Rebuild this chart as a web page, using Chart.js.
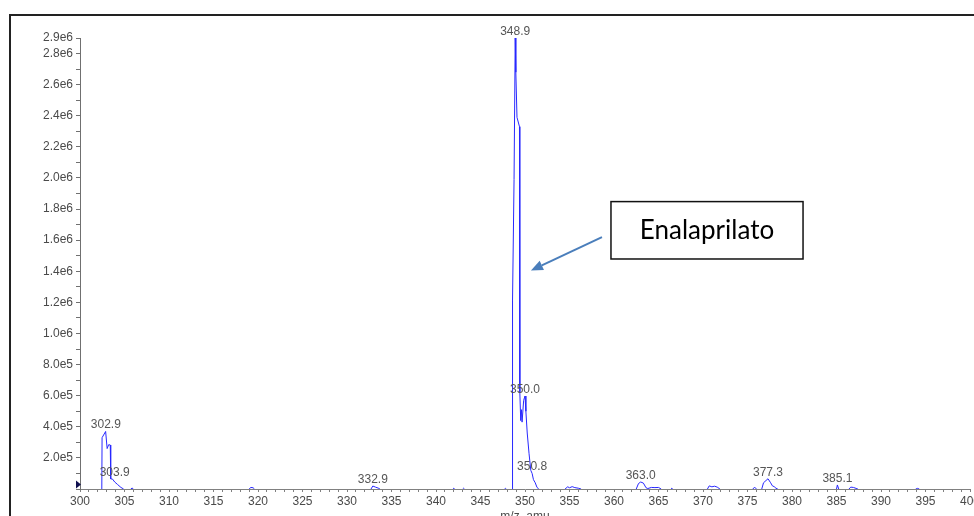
<!DOCTYPE html>
<html>
<head>
<meta charset="utf-8">
<script src="https://cdn.jsdelivr.net/npm/chart.js@4.4.1/dist/chart.umd.min.js"></script>
<style>
  html, body { margin: 0; padding: 0; background: #fff; overflow: hidden; }
  #frame { position: absolute; left: 9px; top: 14px; width: 1100px; height: 600px; border: 2px solid #222; }
  #wrap { position: absolute; left: 0; top: 0; width: 1000px; height: 524px; }
</style>
</head>
<body>
<div id="frame"></div>
<div id="wrap"><canvas id="spectrum"></canvas></div>
<script>
// profile spectrum, m/z vs intensity (cps)
const mzValues = [
    300.0, 302.45, 302.48, 302.88, 303.05, 303.22, 303.40, 303.45, 303.65, 303.90, 304.20, 304.60, 304.90,
    305.70, 305.85, 306.00,
    319.00, 319.20, 319.45, 319.60,
    332.70, 332.90, 333.20, 333.50, 333.70,
    341.90, 342.00, 342.10, 343.00, 343.10, 343.20, 347.70, 347.80, 347.90,
    348.58, 348.60, 348.77, 348.90, 348.97, 349.10, 349.38, 349.41, 349.43, 349.52, 349.60, 349.67, 349.85,
    350.00, 350.10, 350.25, 350.45, 350.65, 350.80, 350.95, 351.15, 351.35, 351.55,
    354.50, 354.80, 355.00, 355.30, 355.60, 356.00, 356.30,
    362.50, 362.75, 363.00, 363.30, 363.60, 363.80, 364.20, 364.60, 365.00, 365.30,
    366.40, 366.50, 366.60,
    370.50, 370.70, 371.00, 371.30, 371.60, 371.90,
    375.60, 375.80, 376.00,
    376.60, 376.80, 377.30, 377.60, 377.80, 378.00, 378.20, 378.40,
    385.00, 385.10, 385.25,
    386.40, 386.60, 386.90, 387.20, 387.40,
    393.90, 394.10, 394.30, 400.0
];
const intensities = [
    0, 0, 330000, 370000, 260000, 285000, 283000, 65000, 64000, 45000, 30000, 10000, 0,
    0, 6000, 0,
    0, 10000, 8000, 0,
    0, 19000, 12000, 6000, 0,
    0, 5000, 0, 0, 5000, 0, 0, 4000, 0,
    0, 1215000, 1990000, 2900000, 2680000, 2390000, 2330000, 1850000, 620000, 440000, 510000, 430000, 570000,
    598000, 500000, 360000, 230000, 120000, 100000, 60000, 40000, 10000, 0,
    0, 14000, 8000, 15000, 9000, 5000, 0,
    0, 35000, 45000, 38000, 8000, 3000, 10000, 9000, 10000, 0,
    0, 5000, 0,
    0, 20000, 14000, 18000, 12000, 0,
    0, 12000, 0,
    0, 40000, 66000, 40000, 20000, 15000, 5000, 0,
    0, 26000, 0,
    0, 12000, 10000, 4000, 0,
    0, 4000, 0, 0
];

// labelled peaks
const peakLabelMz = [302.9, 303.9, 332.9, 348.9, 350.0, 350.8, 363.0, 377.3, 385.1];
const peakLabelHeight = [370000, 64000, 19000, 2900000, 598000, 103000, 45000, 66000, 26000];

// axes
const xMajorTicks = [300, 305, 310, 315, 320, 325, 330, 335, 340, 345, 350, 355, 360, 365, 370, 375, 380, 385, 390, 395, 400];
const yTickValues = [200000, 400000, 600000, 800000, 1000000, 1200000, 1400000, 1600000, 1800000, 2000000, 2200000, 2400000, 2600000, 2800000, 2900000];
const yTickLabels = ['2.0e5', '4.0e5', '6.0e5', '8.0e5', '1.0e6', '1.2e6', '1.4e6', '1.6e6', '1.8e6', '2.0e6', '2.2e6', '2.4e6', '2.6e6', '2.8e6', '2.9e6'];

// callout, in data units
const callout = {
    text: 'Enalaprilato',
    boxLeft: 359.66, boxRight: 381.24, boxTop: 1848000, boxBottom: 1479000,
    arrowFrom: [358.65, 1620000], arrowTo: [350.67, 1405000]
};

const LINE_BLUE = 'rgb(40, 40, 255)';
const TEXT_GRAY = '#4a4a4a';
const FONT = 'Liberation Sans, Arial, sans-serif';

const peakLabels = {
    id: 'peakLabels',
    afterDatasetsDraw(chart) {
        const { ctx, scales: { x, y } } = chart;
        ctx.save();
        ctx.font = '12px ' + FONT;
        ctx.fillStyle = '#555';
        ctx.textAlign = 'center';
        ctx.textBaseline = 'alphabetic';
        peakLabelMz.forEach((mz, i) => {
            ctx.fillText(mz.toFixed(1), x.getPixelForValue(mz), y.getPixelForValue(peakLabelHeight[i]) - 3);
        });
        ctx.restore();
    }
};

const extras = {
    id: 'extras',
    afterDraw(chart) {
        const { ctx, chartArea, scales: { x, y } } = chart;
        ctx.save();

        // threshold marker on the y axis
        const y0 = y.getPixelForValue(0);
        ctx.fillStyle = '#101050';
        ctx.beginPath();
        ctx.moveTo(chartArea.left - 4, y0 - 8.5);
        ctx.lineTo(chartArea.left + 1, y0 - 4.5);
        ctx.lineTo(chartArea.left - 4, y0 - 0.5);
        ctx.closePath();
        ctx.fill();

        // arrow
        const ax0 = x.getPixelForValue(callout.arrowFrom[0]), ay0 = y.getPixelForValue(callout.arrowFrom[1]);
        const ax1 = x.getPixelForValue(callout.arrowTo[0]), ay1 = y.getPixelForValue(callout.arrowTo[1]);
        const ang = Math.atan2(ay1 - ay0, ax1 - ax0);
        const headLen = 12, headHalf = 5;
        const bx = ax1 - headLen * Math.cos(ang), by = ay1 - headLen * Math.sin(ang);
        ctx.strokeStyle = '#4a7ebb';
        ctx.fillStyle = '#4a7ebb';
        ctx.lineWidth = 2;
        ctx.beginPath();
        ctx.moveTo(ax0, ay0);
        ctx.lineTo(bx, by);
        ctx.stroke();
        ctx.beginPath();
        ctx.moveTo(ax1, ay1);
        ctx.lineTo(bx + headHalf * Math.sin(ang), by - headHalf * Math.cos(ang));
        ctx.lineTo(bx - headHalf * Math.sin(ang), by + headHalf * Math.cos(ang));
        ctx.closePath();
        ctx.fill();

        // box
        const l = x.getPixelForValue(callout.boxLeft), r = x.getPixelForValue(callout.boxRight);
        const t = y.getPixelForValue(callout.boxTop), b = y.getPixelForValue(callout.boxBottom);
        ctx.fillStyle = '#fff';
        ctx.fillRect(l, t, r - l, b - t);
        ctx.strokeStyle = '#111';
        ctx.lineWidth = 1.5;
        ctx.strokeRect(l, t, r - l, b - t);
        ctx.fillStyle = '#000';
        ctx.font = '26px Lato, "Open Sans", sans-serif';
        ctx.textAlign = 'center';
        ctx.textBaseline = 'middle';
        ctx.fillText(callout.text, (l + r) / 2, (t + b) / 2);

        ctx.restore();
    }
};

const ctx = document.getElementById('spectrum').getContext('2d');
new Chart(ctx, {
    type: 'line',
    data: {
        datasets: [{
            data: mzValues.map((mz, i) => ({ x: mz, y: intensities[i] })),
            borderColor: LINE_BLUE,
            borderWidth: 1,
            pointRadius: 0,
            tension: 0,
            fill: false,
            segment: {
                // baseline between peaks is hidden under the axis
                borderColor: c => (c.p0.parsed.y === 0 && c.p1.parsed.y === 0) ? 'rgba(0,0,0,0)' : LINE_BLUE
            }
        }]
    },
    options: {
        responsive: true,
        maintainAspectRatio: false,
        animation: false,
        layout: { padding: { left: 0, right: 30, top: 38, bottom: 0 } },
        plugins: {
            legend: { display: false },
            tooltip: { enabled: false }
        },
        scales: {
            x: {
                type: 'linear',
                min: 300,
                max: 400,
                afterBuildTicks: scale => {
                    const ticks = [];
                    for (let v = 300; v <= 400; v++) ticks.push({ value: v });
                    scale.ticks = ticks;
                },
                afterFit: scale => { scale.height = 35; },
                border: { color: '#808080', width: 1 },
                grid: { drawOnChartArea: false, drawTicks: true, tickLength: 3, tickColor: '#808080' },
                ticks: {
                    autoSkip: false,
                    maxRotation: 0,
                    padding: 2,
                    color: TEXT_GRAY,
                    font: { family: FONT, size: 12 },
                    callback: value => xMajorTicks.includes(value) ? String(value) : ''
                },
                title: {
                    display: true,
                    text: 'm/z, amu',
                    color: TEXT_GRAY,
                    font: { family: FONT, size: 12 },
                    padding: { top: 1, bottom: 0 }
                }
            },
            y: {
                min: 0,
                max: 2900000,
                afterBuildTicks: scale => {
                    const ticks = [];
                    for (let v = 0; v <= 2800000; v += 100000) ticks.push({ value: v });
                    ticks.push({ value: 2900000 });
                    scale.ticks = ticks;
                },
                afterFit: scale => { scale.width = 80; },
                border: { color: '#707070', width: 1 },
                grid: { drawOnChartArea: false, drawTicks: true, tickLength: 4, tickColor: '#707070' },
                ticks: {
                    autoSkip: false,
                    padding: 3,
                    color: TEXT_GRAY,
                    font: { family: FONT, size: 12 },
                    callback: value => {
                        const i = yTickValues.indexOf(value);
                        return i >= 0 ? yTickLabels[i] : '';
                    }
                }
            }
        }
    },
    plugins: [peakLabels, extras]
});
</script>
</body>
</html>
